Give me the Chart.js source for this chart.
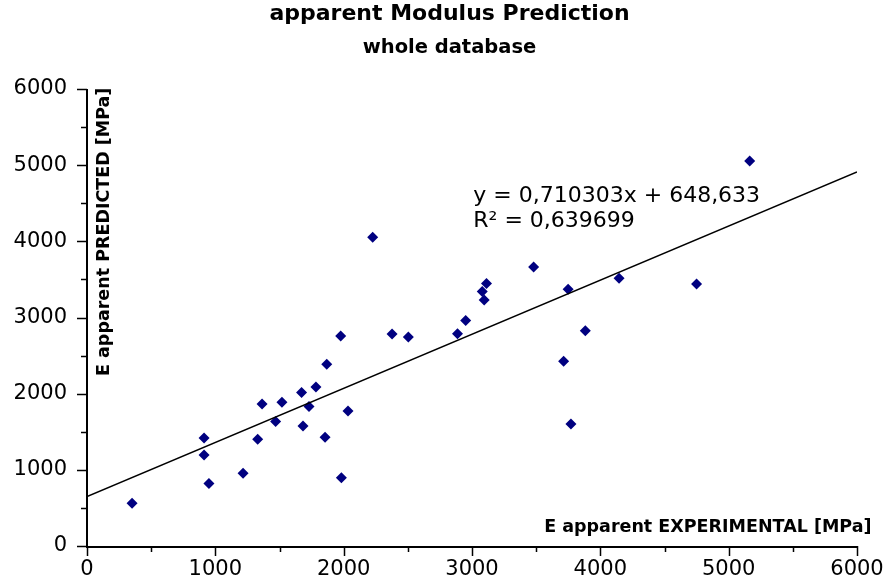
<!DOCTYPE html>
<html><head><meta charset="utf-8">
<script src="https://cdn.jsdelivr.net/npm/chart.js@4"></script>
<style>html,body{margin:0;padding:0;background:#fff}</style>
</head><body>
<canvas id="c" width="887" height="584"></canvas>
<script>
// ---- data ----
const titleText = 'apparent Modulus Prediction';
const subtitleText = 'whole database';
const xAxisTitle = 'E apparent EXPERIMENTAL [MPa]';
const yAxisTitle = 'E apparent PREDICTED [MPa]';
const xTicks = [0, 1000, 2000, 3000, 4000, 5000, 6000];
const yTicks = [0, 1000, 2000, 3000, 4000, 5000, 6000];
const expValues  = [351, 912, 912, 950, 1216, 1330, 1364, 1470, 1519, 1672, 1683, 1730, 1784, 1855, 1868, 1977, 1982, 2034, 2226, 2377, 2504, 2887, 2951, 3080, 3095, 3113, 3480, 3714, 3749, 3771, 3883, 4146, 4750, 5164];
const predValues = [560, 1418, 1195, 820, 955, 1400, 1864, 1636, 1887, 2014, 1575, 1830, 2087, 1427, 2385, 2757, 897, 1772, 4053, 2785, 2745, 2787, 2962, 3341, 3230, 3445, 3663, 2425, 3370, 1602, 2827, 3515, 3440, 5055];
const trendX = [0, 6000];
const trendY = [648.633, 4910.451];
const equationLines = ['y = 0,710303x + 648,633', 'R² = 0,639699'];

const FONT = '"DejaVu Sans", sans-serif';

const decor = {
  id: 'decor',
  afterDraw(chart) {
    const ctx = chart.ctx;
    const xs = chart.scales.x, ys = chart.scales.y;
    const a = chart.chartArea;
    ctx.save();
    // axes
    ctx.strokeStyle = '#000';
    ctx.lineWidth = 2;
    ctx.beginPath();
    ctx.moveTo(a.left, a.top); ctx.lineTo(a.left, a.bottom + 1); ctx.lineTo(a.right, a.bottom + 1);
    ctx.stroke();
    ctx.lineWidth = 1.5;
    ctx.beginPath();
    for (let v = 0; v <= 6000; v += 500) {
      const major = v % 1000 === 0;
      const py = Math.round(ys.getPixelForValue(v)) + 0.5;
      ctx.moveTo(a.left - (major ? 10 : 6), py); ctx.lineTo(a.left, py);
      const px = Math.round(xs.getPixelForValue(v)) + 0.5;
      ctx.moveTo(px, a.bottom); ctx.lineTo(px, a.bottom + (major ? 10 : 6));
    }
    ctx.stroke();
    // titles
    ctx.fillStyle = '#000';
    ctx.textAlign = 'center';
    ctx.textBaseline = 'alphabetic';
    ctx.font = 'bold 22px ' + FONT;
    ctx.fillText(titleText, 449.5, 20);
    ctx.font = 'bold 19.5px ' + FONT;
    ctx.fillText(subtitleText, 449.5, 53);
    // axis titles
    ctx.font = 'bold 17.5px ' + FONT;
    ctx.textAlign = 'right';
    ctx.fillText(xAxisTitle, 871.5, 531.5);
    ctx.save();
    ctx.translate(109, 376);
    ctx.rotate(-Math.PI / 2);
    ctx.textAlign = 'left';
    ctx.fillText(yAxisTitle, 0, 0);
    ctx.restore();
    // equation
    ctx.font = '22px ' + FONT;
    ctx.textAlign = 'left';
    const ex = xs.getPixelForValue(3010);
    const ey = ys.getPixelForValue(4520);
    equationLines.forEach((t, i) => ctx.fillText(t, ex, ey + i * 25));
    ctx.restore();
  }
};

new Chart(document.getElementById('c'), {
  type: 'scatter',
  data: {
    datasets: [
      {
        label: 'trend',
        data: trendX.map((x, i) => ({ x, y: trendY[i] })),
        showLine: true,
        borderColor: '#000',
        borderWidth: 1.5,
        pointRadius: 0,
        fill: false
      },
      {
        label: 'E apparent',
        data: expValues.map((x, i) => ({ x, y: predValues[i] })),
        pointStyle: 'rectRot',
        pointRadius: 5.5,
        pointBackgroundColor: '#000080',
        pointBorderColor: '#000080',
        pointBorderWidth: 0
      }
    ]
  },
  options: {
    responsive: false,
    animation: false,
    devicePixelRatio: 1,
    layout: { padding: { top: 89, right: 30, left: 0, bottom: 0 } },
    plugins: { legend: { display: false }, title: { display: false }, tooltip: { enabled: false } },
    scales: {
      x: {
        type: 'linear', min: 0, max: 6000,
        afterBuildTicks: s => { s.ticks = xTicks.map(v => ({ value: v })); },
        afterFit: s => { s.height = 38; s.paddingLeft = 0; s.paddingRight = 0; },
        grid: { display: false, drawTicks: false },
        border: { display: false },
        ticks: { color: '#000', font: { family: FONT, size: 21 }, padding: 11, maxRotation: 0, callback: v => String(v) }
      },
      y: {
        type: 'linear', min: 0, max: 6000,
        afterBuildTicks: s => { s.ticks = yTicks.map(v => ({ value: v })); },
        afterFit: s => { s.width = 87; s.paddingTop = 0; s.paddingBottom = 0; },
        grid: { display: false, drawTicks: false },
        border: { display: false },
        ticks: { color: '#000', font: { family: FONT, size: 21 }, padding: 20, callback: v => String(v) }
      }
    }
  },
  plugins: [decor]
});
</script>
</body></html>
